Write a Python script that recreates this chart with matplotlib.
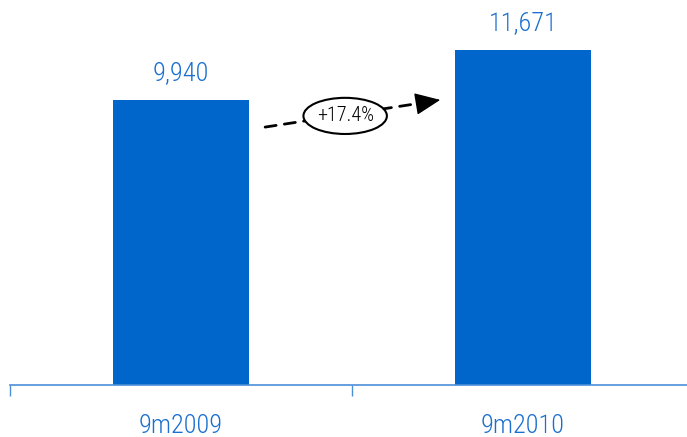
import matplotlib.pyplot as plt
from matplotlib.patches import Ellipse

periods = ['9m2009', '9m2010']
values = [9940, 11671]
growth = '+17.4%'

bar_color = '#0066cc'
text_color = '#1a6fd0'
axis_color = '#4a8fd8'

plt.rcParams['font.family'] = ['Roboto Condensed', 'DejaVu Sans']
plt.rcParams['font.weight'] = 'light'

fig = plt.figure(figsize=(6.87, 4.37), dpi=100)
ax = fig.add_axes([10 / 687, 52 / 437, 684 / 687, 372.7 / 437])

x = list(range(len(periods)))
ax.bar(x, values, width=0.4, color=bar_color)

for xi, v in zip(x, values):
    ax.text(xi, v + 950, f'{v:,}', ha='center', va='center',
            fontsize=19, color=text_color, fontweight='light')

ax.set_xlim(-0.5, 1.5)
ax.set_ylim(0, 13000)

# ticks sit on the category boundaries, labels in the middle
ax.set_xticks([-0.5, 0.5, 1.5])
ax.set_xticklabels([])
ax.set_xticks(x, minor=True)
ax.set_xticklabels(periods, minor=True, fontsize=19, color=text_color, fontweight='light')
ax.tick_params(axis='x', which='major', length=8, width=1, color=axis_color, direction='out')
ax.tick_params(axis='x', which='minor', length=0, pad=21)
ax.set_yticks([])

for side in ['top', 'right', 'left']:
    ax.spines[side].set_visible(False)
ax.spines['bottom'].set_color(axis_color)
ax.spines['bottom'].set_linewidth(1.2)

# growth arrow between the bars: dashed shaft plus a solid head
start = (0.373, 0.692)
tip = (0.629, 0.765)
base = (0.606, 0.758)
ax.annotate('', xy=base, xytext=start,
            xycoords='axes fraction', textcoords='axes fraction',
            arrowprops=dict(arrowstyle='-', linestyle=(0, (4, 3)), lw=2,
                            color='black', shrinkA=0, shrinkB=0))
ax.annotate('', xy=tip, xytext=base,
            xycoords='axes fraction', textcoords='axes fraction',
            arrowprops=dict(arrowstyle='-|>,head_length=0.8,head_width=0.35',
                            mutation_scale=20, lw=1, color='black',
                            shrinkA=0, shrinkB=0))
ax.add_patch(Ellipse((0.49, 0.722), 0.122, 0.097, transform=ax.transAxes,
                     facecolor='white', edgecolor='black', lw=1.5, zorder=5))
ax.text(0.49, 0.722, growth, transform=ax.transAxes, ha='center', va='center',
        fontsize=14.5, color='black', fontweight='light', zorder=6)

fig.savefig('out.png', dpi=100)
